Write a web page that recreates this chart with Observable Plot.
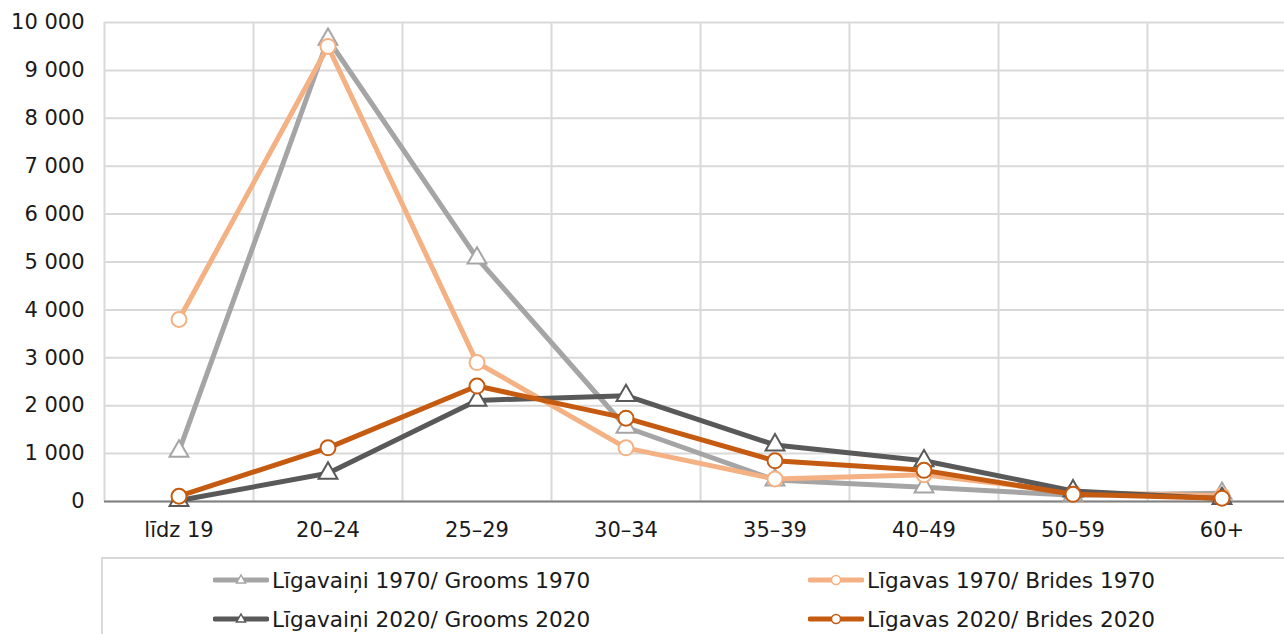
<!DOCTYPE html>
<html><head><meta charset="utf-8">
<script src="https://cdn.jsdelivr.net/npm/d3@7"></script>
<script src="https://cdn.jsdelivr.net/npm/@observablehq/plot@0.6"></script>
<style>
body{margin:0;background:#fff;font-family:"DejaVu Sans",Verdana,sans-serif;}
#wrap{position:relative;width:1284px;height:634px;overflow:hidden;}
#legend{position:absolute;left:101px;top:557px;width:1300px;height:120px;border:2px solid #d9d9d9;box-sizing:border-box;}
.item{position:absolute;height:30px;display:flex;align-items:center;font-size:21.6px;color:#1a1a1a;white-space:nowrap;}
.item svg{margin-right:3px;}
</style></head><body><div id="wrap"><div id="chart"></div><div id="legend"></div></div>
<script>
const ageGroups = ["līdz 19","20–24","25–29","30–34","35–39","40–49","50–59","60+"];
const grooms1970 = [1050, 9650, 5080, 1550, 450, 300, 130, 170];
const brides1970 = [3800, 9500, 2900, 1120, 470, 560, 190, 120];
const grooms2020 = [20, 590, 2110, 2210, 1180, 850, 220, 60];
const brides2020 = [110, 1120, 2410, 1740, 850, 650, 150, 70];
const seriesNames = ["Līgavaiņi 1970/ Grooms 1970","Līgavas 1970/ Brides 1970","Līgavaiņi 2020/ Grooms 2020","Līgavas 2020/ Brides 2020"];
const seriesColors = ["#a5a5a5","#f4b183","#595959","#c55a11"];
const seriesSymbols = ["triangle","circle","triangle","circle"];
const yTicks = [0,1000,2000,3000,4000,5000,6000,7000,8000,9000,10000];

const allValues = [grooms1970, brides1970, grooms2020, brides2020];
const series = allValues.map((vals, i) => ({
  name: seriesNames[i], color: seriesColors[i], symbol: seriesSymbols[i],
  data: ageGroups.map((age, j) => ({age, value: vals[j], series: seriesNames[i]}))
}));

const fmt = d => d3.format(",")(d).replace(/,/g, " ");
const xRange = [104, 1296];
const bandHalf = (xRange[1] - xRange[0]) / ageGroups.length / 2;

const marks = [
  Plot.gridY(yTicks, {stroke: "#d9d9d9", strokeWidth: 2, strokeOpacity: 1}),
  Plot.ruleX(ageGroups, {x: d => d, dx: -bandHalf, y1: 0, y2: 10000, stroke: "#d9d9d9", strokeWidth: 2}),
  Plot.ruleY([0], {stroke: "#808080", strokeWidth: 2}),
  Plot.axisY({ticks: yTicks, tickFormat: fmt, tickSize: 0, tickPadding: 20, fontSize: 21, label: null}),
  Plot.axisX({tickSize: 0, tickPadding: 21, fontSize: 21, label: null})
];
for (const s of series) {
  marks.push(Plot.line(s.data, {x: "age", y: "value", stroke: s.color, strokeWidth: 5, strokeLinejoin: "round"}));
  marks.push(Plot.dot(s.data, {x: "age", y: "value", symbol: s.symbol, r: s.symbol === "triangle" ? 7 : 7.5, fill: "white", stroke: s.color, strokeWidth: 2}));
}

const chart = Plot.plot({
  width: 1284, height: 550,
  marginTop: 22, marginBottom: 49, marginLeft: 104, marginRight: 0,
  style: {fontFamily: '"DejaVu Sans", Verdana, sans-serif', color: "#1a1a1a", background: "white", overflow: "visible"},
  x: {type: "band", domain: ageGroups, range: xRange, padding: 0},
  y: {domain: [0, 10000], range: [501, 22]},
  marks
});
document.getElementById("chart").appendChild(chart);

// legend
const legend = document.getElementById("legend");
const pos = [[110, 6], [705, 6], [110, 45], [705, 45]];
series.forEach((s, i) => {
  const it = document.createElement("div");
  it.className = "item";
  it.style.left = pos[i][0] + "px";
  it.style.top = pos[i][1] + "px";
  const marker = s.symbol === "triangle"
    ? `<path d="M28,5 L32.5,13 L23.5,13 Z" fill="white" stroke="${s.color}" stroke-width="1.5"/>`
    : `<circle cx="28" cy="10" r="4.5" fill="white" stroke="${s.color}" stroke-width="1.5"/>`;
  it.innerHTML = `<svg width="56" height="20"><line x1="2" y1="10" x2="54" y2="10" stroke="${s.color}" stroke-width="5" stroke-linecap="round"/>${marker}</svg><span>${s.name}</span>`;
  legend.appendChild(it);
});
</script></body></html>
